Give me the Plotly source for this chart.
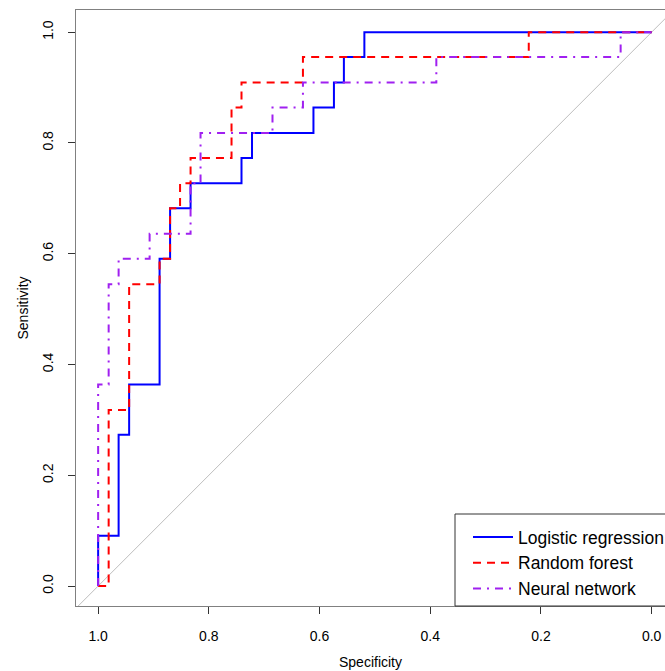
import plotly.graph_objects as go

# ROC curve corner points (specificity, sensitivity)
lr_spec = [1.000, 1.000, 0.963, 0.963, 0.944, 0.944, 0.889, 0.889, 0.870, 0.870,
           0.833, 0.833, 0.741, 0.741, 0.722, 0.722, 0.611, 0.611, 0.574, 0.574,
           0.556, 0.556, 0.519, 0.519, 0.000]
lr_sens = [0.000, 0.091, 0.091, 0.273, 0.273, 0.364, 0.364, 0.591, 0.591, 0.682,
           0.682, 0.727, 0.727, 0.773, 0.773, 0.818, 0.818, 0.864, 0.864, 0.909,
           0.909, 0.955, 0.955, 1.000, 1.000]

rf_spec = [1.000, 0.981, 0.981, 0.944, 0.944, 0.889, 0.889, 0.870, 0.870, 0.852,
           0.852, 0.833, 0.833, 0.759, 0.759, 0.741, 0.741, 0.630, 0.630, 0.222,
           0.222, 0.000]
rf_sens = [0.000, 0.000, 0.318, 0.318, 0.545, 0.545, 0.591, 0.591, 0.682, 0.682,
           0.727, 0.727, 0.773, 0.773, 0.864, 0.864, 0.909, 0.909, 0.955, 0.955,
           1.000, 1.000]

nn_spec = [1.000, 1.000, 0.981, 0.981, 0.963, 0.963, 0.907, 0.907, 0.833, 0.833,
           0.815, 0.815, 0.685, 0.685, 0.630, 0.630, 0.389, 0.389, 0.056, 0.056,
           0.000]
nn_sens = [0.000, 0.364, 0.364, 0.545, 0.545, 0.591, 0.591, 0.636, 0.636, 0.727,
           0.727, 0.818, 0.818, 0.864, 0.864, 0.909, 0.909, 0.955, 0.955, 1.000,
           1.000]

diag_spec = [1.2, -0.2]
diag_sens = [-0.2, 1.2]

tick_vals = [1.0, 0.8, 0.6, 0.4, 0.2, 0.0]
tick_text = ["1.0", "0.8", "0.6", "0.4", "0.2", "0.0"]

FONT = "Liberation Sans, Arial, sans-serif"
W, H = 665, 671
ML, MT, MR, MB = 76, 10, 0, 65
PW = W - ML - MR
PH = H - MT - MB

fig = go.Figure()
fig.add_trace(go.Scatter(x=diag_spec, y=diag_sens, mode="lines",
                         line=dict(color="#BEBEBE", width=1),
                         showlegend=False, hoverinfo="skip"))
fig.add_trace(go.Scatter(x=lr_spec, y=lr_sens, mode="lines", name="Logistic regression",
                         line=dict(color="#0000FF", width=2)))
fig.add_trace(go.Scatter(x=rf_spec, y=rf_sens, mode="lines", name="Random forest",
                         line=dict(color="#FF0000", width=2, dash="8px,6px")))
fig.add_trace(go.Scatter(x=nn_spec, y=nn_sens, mode="lines", name="Neural network",
                         line=dict(color="#A020F0", width=2, dash="8px,6px,2px,6px")))

# legend frame (right side extends past the window as in the reference)
leg_left_px = 455
leg_top_px = 514
fig.add_shape(type="rect", xref="paper", yref="paper",
              x0=(leg_left_px - ML) / PW, x1=1.2,
              y0=0, y1=(MT + PH - leg_top_px) / PH,
              line=dict(color="#333333", width=1), fillcolor="white", layer="above")

fig.update_layout(
    width=W, height=H,
    margin=dict(l=ML, r=MR, t=MT, b=MB, autoexpand=False),
    paper_bgcolor="white", plot_bgcolor="white",
    font=dict(family=FONT, size=14, color="#000000"),
    showlegend=True,
    legend=dict(x=(468 - ML) / PW, xanchor="left",
                y=(MT + PH - 519) / PH, yanchor="top",
                bgcolor="rgba(0,0,0,0)", borderwidth=0,
                font=dict(family=FONT, size=17.5, color="#000000"),
                itemwidth=40),
    xaxis=dict(range=[1.04, 1.04 - PW / 553.5], autorange=False,
               tickmode="array", tickvals=tick_vals, ticktext=tick_text,
               ticks="outside", ticklen=7, tickcolor="#333333", tickwidth=1,
               showline=True, mirror=True, linecolor="#808080", linewidth=1,
               showgrid=False, zeroline=False, ticklabelstandoff=10,
               title=dict(text="Specificity", font=dict(size=14), standoff=14)),
    yaxis=dict(range=[-0.036, 1.04], autorange=False,
               tickmode="array", tickvals=tick_vals, ticktext=tick_text,
               ticks="outside", ticklen=7, tickcolor="#333333", tickwidth=1,
               tickangle=-90,
               showline=True, mirror=False, linecolor="#808080", linewidth=1,
               showgrid=False, zeroline=False, ticklabelstandoff=9,
               title=dict(text="Sensitivity", font=dict(size=14), standoff=8)),
)

fig.write_html("out.html")
